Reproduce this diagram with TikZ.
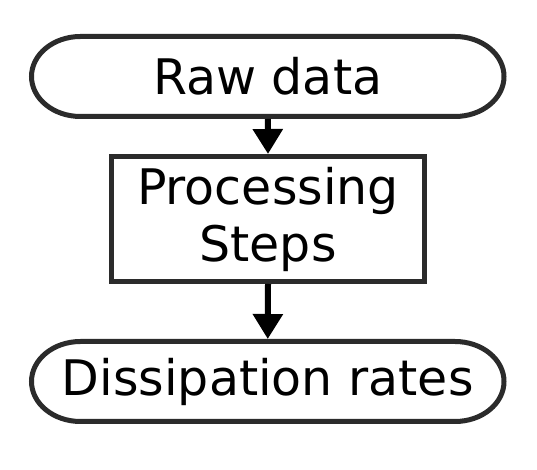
\documentclass[tikz,border=0pt]{standalone}
\usepackage{fontspec}
\setmainfont{DejaVu Sans}
\usetikzlibrary{arrows.meta}
\definecolor{boxgray}{HTML}{2B2B2B}
\begin{document}
\begin{tikzpicture}[x=1pt, y=1pt,
    txt/.style={font=\fontsize{49}{57}\selectfont, text=black},
    term/.style={txt, minimum width=467.5pt, minimum height=80pt, inner sep=0pt, outer sep=2.5pt},
    stepbox/.style={txt, draw=boxgray, line width=5pt, minimum width=312.4pt, minimum height=125pt, inner sep=0pt, align=center},
    termline/.style={draw=boxgray, line width=5pt},
    flow/.style={line width=6pt, black, -{Triangle[length=25pt, width=29pt]}}]
    \useasboundingbox (0,0) rectangle (537,470);
    \node[term] (raw) at (267.75,393.5) {Raw data};
    \node[stepbox] (proc) at (268,251) {Processing\\Steps};
    \node[term] (rates) at (267.75,88.5) {Dissipation rates};
    \foreach \n in {raw,rates}
        \draw[termline] ([xshift=49pt, yshift=-2.5pt]\n.north west) -- ([xshift=-49pt, yshift=-2.5pt]\n.north east) arc[start angle=90, end angle=-90, x radius=49pt, y radius=40pt] -- ([xshift=49pt, yshift=2.5pt]\n.south west) arc[start angle=270, end angle=90, x radius=49pt, y radius=40pt] -- cycle; %% outline
    \draw[flow] (raw.south) -- (proc.north);
    \draw[flow] (proc.south) -- (rates.north);
\end{tikzpicture}
\end{document}
